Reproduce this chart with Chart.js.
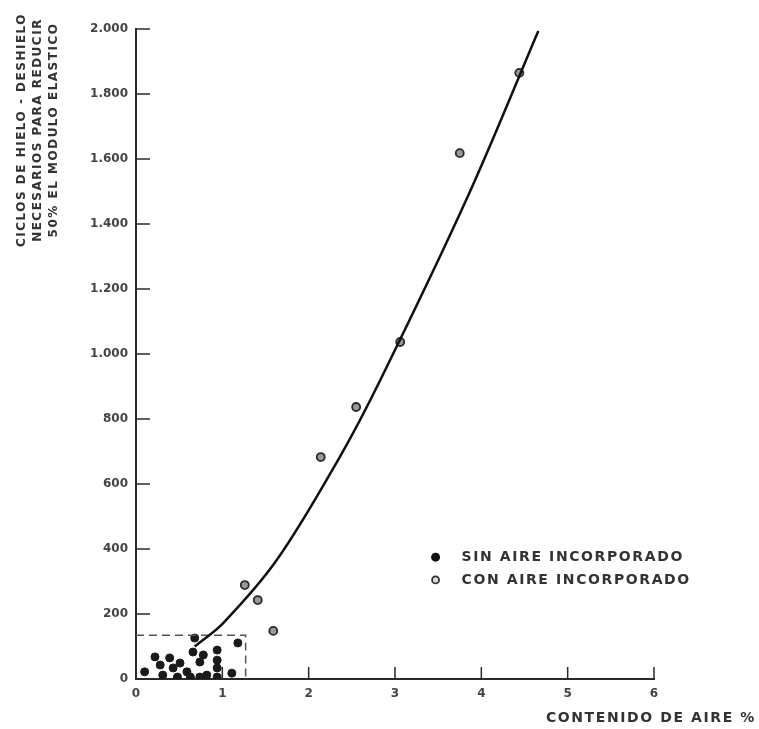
<!DOCTYPE html>
<html>
<head>
<meta charset="utf-8">
<script src="https://cdn.jsdelivr.net/npm/chart.js@4"></script>
<style>
  html, body { margin: 0; padding: 0; background: #fff; }
  #wrap { width: 759px; height: 729px; }
</style>
</head>
<body>
<div id="wrap"><canvas id="chart" width="759" height="729"></canvas></div>
<script>
// sin aire incorporado (filled dots)
var sinAireX = [0.10, 0.22, 0.28, 0.31, 0.39, 0.43, 0.48, 0.51, 0.59, 0.63, 0.66, 0.68, 0.74, 0.74, 0.78, 0.82, 0.94, 0.94, 0.94, 0.94, 1.11, 1.18];
var sinAireY = [22, 68, 43, 12, 65, 34, 6, 49, 22, 6, 83, 126, 52, 6, 74, 12, 89, 58, 34, 6, 18, 111];

// con aire incorporado (open dots)
var conAireX = [1.26, 1.41, 1.59, 2.14, 2.55, 3.06, 3.75, 4.44];
var conAireY = [289, 243, 148, 683, 837, 1037, 1618, 1865];

// fitted curve
var curveX = [0.68, 1.01, 1.63, 2.36, 2.83, 3.84, 4.66];
var curveY = [100, 172, 366, 683, 920, 1483, 1994];

// dashed box round the low values
var boxX = [0, 1.27, 1.27];
var boxY = [135, 135, 0];

var xTicks = [0, 1, 2, 3, 4, 5, 6];
var yTicks = [0, 200, 400, 600, 800, 1000, 1200, 1400, 1600, 1800, 2000];

var legendLabels = ['SIN AIRE INCORPORADO', 'CON AIRE INCORPORADO'];
var yTitle = ['CICLOS DE HIELO - DESHIELO', 'NECESARIOS PARA REDUCIR', '50% EL MODULO ELASTICO'];
var xTitle = 'CONTENIDO DE AIRE %';

var ink = '#2a2a2a';

function pts(xs, ys) {
    return xs.map(function(x, i) { return {x: x, y: ys[i]}; });
}

function fmt(v) {
    return String(v).replace(/\B(?=(\d{3})+(?!\d))/g, '.');
}

var decorations = {
    id: 'decorations',
    afterDraw: function(chart) {
        var ctx = chart.ctx;
        var xs = chart.scales.x, ys = chart.scales.y;
        var area = chart.chartArea;
        ctx.save();

        // inward tick marks
        ctx.strokeStyle = ink;
        ctx.lineWidth = 1.5;
        ctx.beginPath();
        yTicks.forEach(function(v) {
            if (v === 0) return;
            var py = ys.getPixelForValue(v);
            ctx.moveTo(area.left, py);
            ctx.lineTo(area.left + 14, py);
        });
        xTicks.forEach(function(v) {
            if (v === 0) return;
            var px = xs.getPixelForValue(v);
            ctx.moveTo(px, area.bottom);
            ctx.lineTo(px, area.bottom - 12);
        });
        ctx.stroke();

        // legend
        ctx.font = 'bold 14px "DejaVu Sans"';
        ctx.letterSpacing = '1.6px';
        ctx.textBaseline = 'middle';
        var lx = xs.getPixelForValue(3.47);
        [375, 305].forEach(function(v, i) {
            var ly = ys.getPixelForValue(v);
            ctx.beginPath();
            ctx.arc(lx, ly, i === 0 ? 4.5 : 3.5, 0, Math.PI * 2);
            if (i === 0) {
                ctx.fillStyle = '#111';
                ctx.fill();
            } else {
                ctx.fillStyle = '#ddd';
                ctx.fill();
                ctx.lineWidth = 1.8;
                ctx.strokeStyle = '#333';
                ctx.stroke();
            }
            ctx.fillStyle = '#333';
            ctx.fillText(legendLabels[i], lx + 26, ly);
        });

        // x title
        ctx.textAlign = 'right';
        ctx.fillText(xTitle, 756, 718);

        // y title, rotated
        ctx.translate(0, 130);
        ctx.rotate(-Math.PI / 2);
        ctx.textAlign = 'center';
        ctx.font = 'bold 12px "DejaVu Sans"';
        ctx.letterSpacing = '1.5px';
        yTitle.forEach(function(line, i) {
            ctx.fillText(line, 0, 22 + i * 16);
        });
        ctx.restore();
    }
};

new Chart(document.getElementById('chart'), {
    type: 'scatter',
    data: {
        datasets: [
            {
                label: 'curva',
                data: pts(curveX, curveY),
                showLine: true,
                borderColor: '#111',
                borderWidth: 2.5,
                pointRadius: 0,
                tension: 0.35
            },
            {
                label: 'caja',
                data: pts(boxX, boxY),
                showLine: true,
                borderColor: '#555',
                borderWidth: 1.5,
                borderDash: [8, 5],
                pointRadius: 0,
                tension: 0
            },
            {
                label: legendLabels[0],
                data: pts(sinAireX, sinAireY),
                backgroundColor: '#1a1a1a',
                borderColor: '#1a1a1a',
                pointRadius: 4
            },
            {
                label: legendLabels[1],
                data: pts(conAireX, conAireY),
                backgroundColor: '#999',
                borderColor: '#2a2a2a',
                borderWidth: 1.8,
                pointRadius: 4
            }
        ]
    },
    options: {
        responsive: false,
        animation: false,
        layout: { padding: { top: 29, right: 105, left: 0, bottom: 0 } },
        plugins: {
            legend: { display: false },
            tooltip: { enabled: false }
        },
        scales: {
            x: {
                type: 'linear',
                min: 0,
                max: 6,
                afterFit: function(s) { s.height = 50; },
                grid: { drawOnChartArea: false, drawTicks: false },
                border: { display: true, color: ink, width: 2 },
                ticks: {
                    stepSize: 1,
                    padding: 8,
                    color: '#444',
                    font: { family: 'DejaVu Sans', size: 12, weight: 'bold' }
                }
            },
            y: {
                type: 'linear',
                min: 0,
                max: 2000,
                afterFit: function(s) { s.width = 136; },
                grid: { drawOnChartArea: false, drawTicks: false },
                border: { display: true, color: ink, width: 2 },
                ticks: {
                    stepSize: 200,
                    padding: 8,
                    color: '#444',
                    font: { family: 'DejaVu Sans', size: 12, weight: 'bold' },
                    callback: function(v) { return fmt(v); }
                }
            }
        }
    },
    plugins: [decorations]
});
</script>
</body>
</html>
